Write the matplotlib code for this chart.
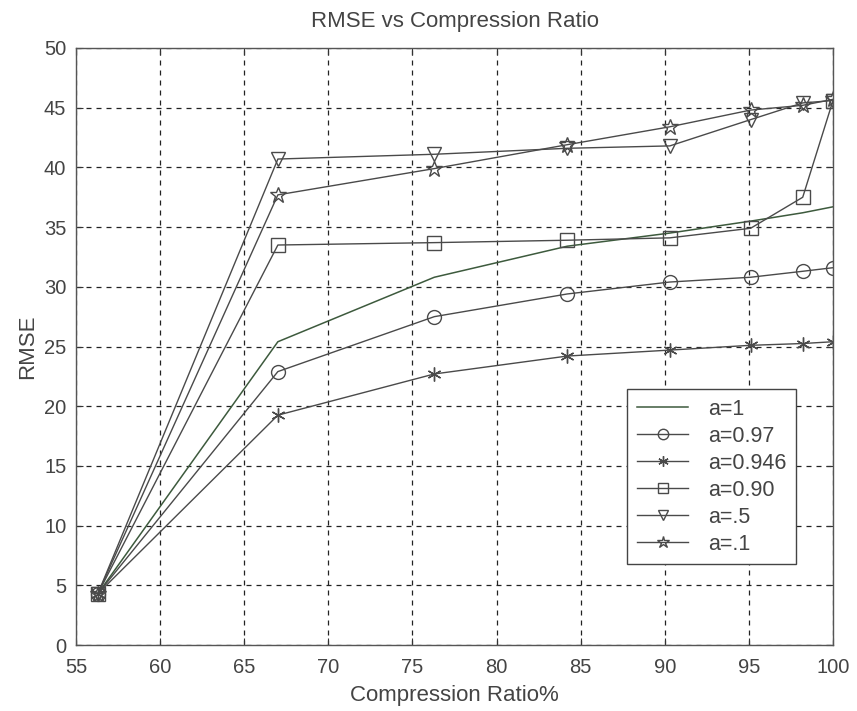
import matplotlib
matplotlib.use("Agg")
import matplotlib.pyplot as plt

plt.rcParams['font.family'] = ['Liberation Sans', 'DejaVu Sans']

ratio = [56.3, 67.0, 76.3, 84.2, 90.3, 95.1, 98.2, 100.0]
rmse_a1 = [4.3, 25.4, 30.8, 33.4, 34.5, 35.5, 36.2, 36.7]
rmse_a097 = [4.3, 22.9, 27.5, 29.4, 30.4, 30.8, 31.3, 31.6]
rmse_a0946 = [4.3, 19.25, 22.7, 24.2, 24.7, 25.1, 25.25, 25.4]
rmse_a090 = [4.3, 33.5, 33.7, 33.9, 34.1, 34.9, 37.5, 45.6]
rmse_a05 = [4.3, 40.7, 41.1, 41.6, 41.8, 44.0, 45.4, 45.6]
rmse_a01 = [4.3, 37.7, 39.9, 41.9, 43.4, 44.8, 45.2, 45.7]
labels = ['a=1', 'a=0.97', 'a=0.946', 'a=0.90', 'a=.5', 'a=.1']
xticks = [55, 60, 65, 70, 75, 80, 85, 90, 95, 100]
yticks = [0, 5, 10, 15, 20, 25, 30, 35, 40, 45, 50]

fig = plt.figure(figsize=(8.57, 7.11), dpi=100)
ax = fig.add_axes([0.0887, 0.0928, 0.8833, 0.8397])

lc = '#4a4a4a'
ms = 10
ax.plot(ratio, rmse_a1, color='#3d5a3d', lw=1.1, label=labels[0])
ax.plot(ratio, rmse_a097, color=lc, lw=1.0, marker='o', ms=ms, mfc='none', mec=lc, label=labels[1])
ax.plot(ratio, rmse_a0946, color=lc, lw=1.0, marker=(6, 2, 0), ms=ms, mec=lc, label=labels[2])
ax.plot(ratio, rmse_a090, color=lc, lw=1.0, marker='s', ms=ms, mfc='none', mec=lc, label=labels[3])
ax.plot(ratio, rmse_a05, color=lc, lw=1.0, marker='v', ms=ms, mfc='none', mec=lc, label=labels[4])
ax.plot(ratio, rmse_a01, color=lc, lw=1.0, marker='*', ms=ms + 2, mfc='none', mec=lc, label=labels[5])

ax.set_xlim(55, 100)
ax.set_ylim(0, 50)
ax.set_xticks(xticks)
ax.set_yticks(yticks)
ax.tick_params(direction='in', labelsize=14.5, length=5, colors='#333333', top=True, right=True,
               labelcolor='#444444')
ax.tick_params(axis='x', pad=9)
ax.tick_params(axis='y', pad=7)
ax.grid(True, color='#222222', linestyle=(0, (4, 4)), linewidth=0.9)
for s in ax.spines.values():
    s.set_color('#555555')
    s.set_linewidth(1.0)

ax.set_title('RMSE vs Compression Ratio', fontsize=16, color='#444444', pad=15)
ax.set_xlabel('Compression Ratio%', fontsize=16, color='#444444', labelpad=6)
ax.set_ylabel('RMSE', fontsize=16, color='#444444', labelpad=4)

leg = ax.legend(loc='upper left', bbox_to_anchor=(0.728, 0.429), fontsize=15.5, frameon=True,
                fancybox=False, edgecolor='#444444', borderpad=0.45, labelspacing=0.28,
                handlelength=2.4, handletextpad=0.9, borderaxespad=0, framealpha=1,
                markerscale=0.75)
leg.get_frame().set_linewidth(1.0)
for t in leg.get_texts():
    t.set_color('#444444')

fig.savefig('out.png', dpi=100)
